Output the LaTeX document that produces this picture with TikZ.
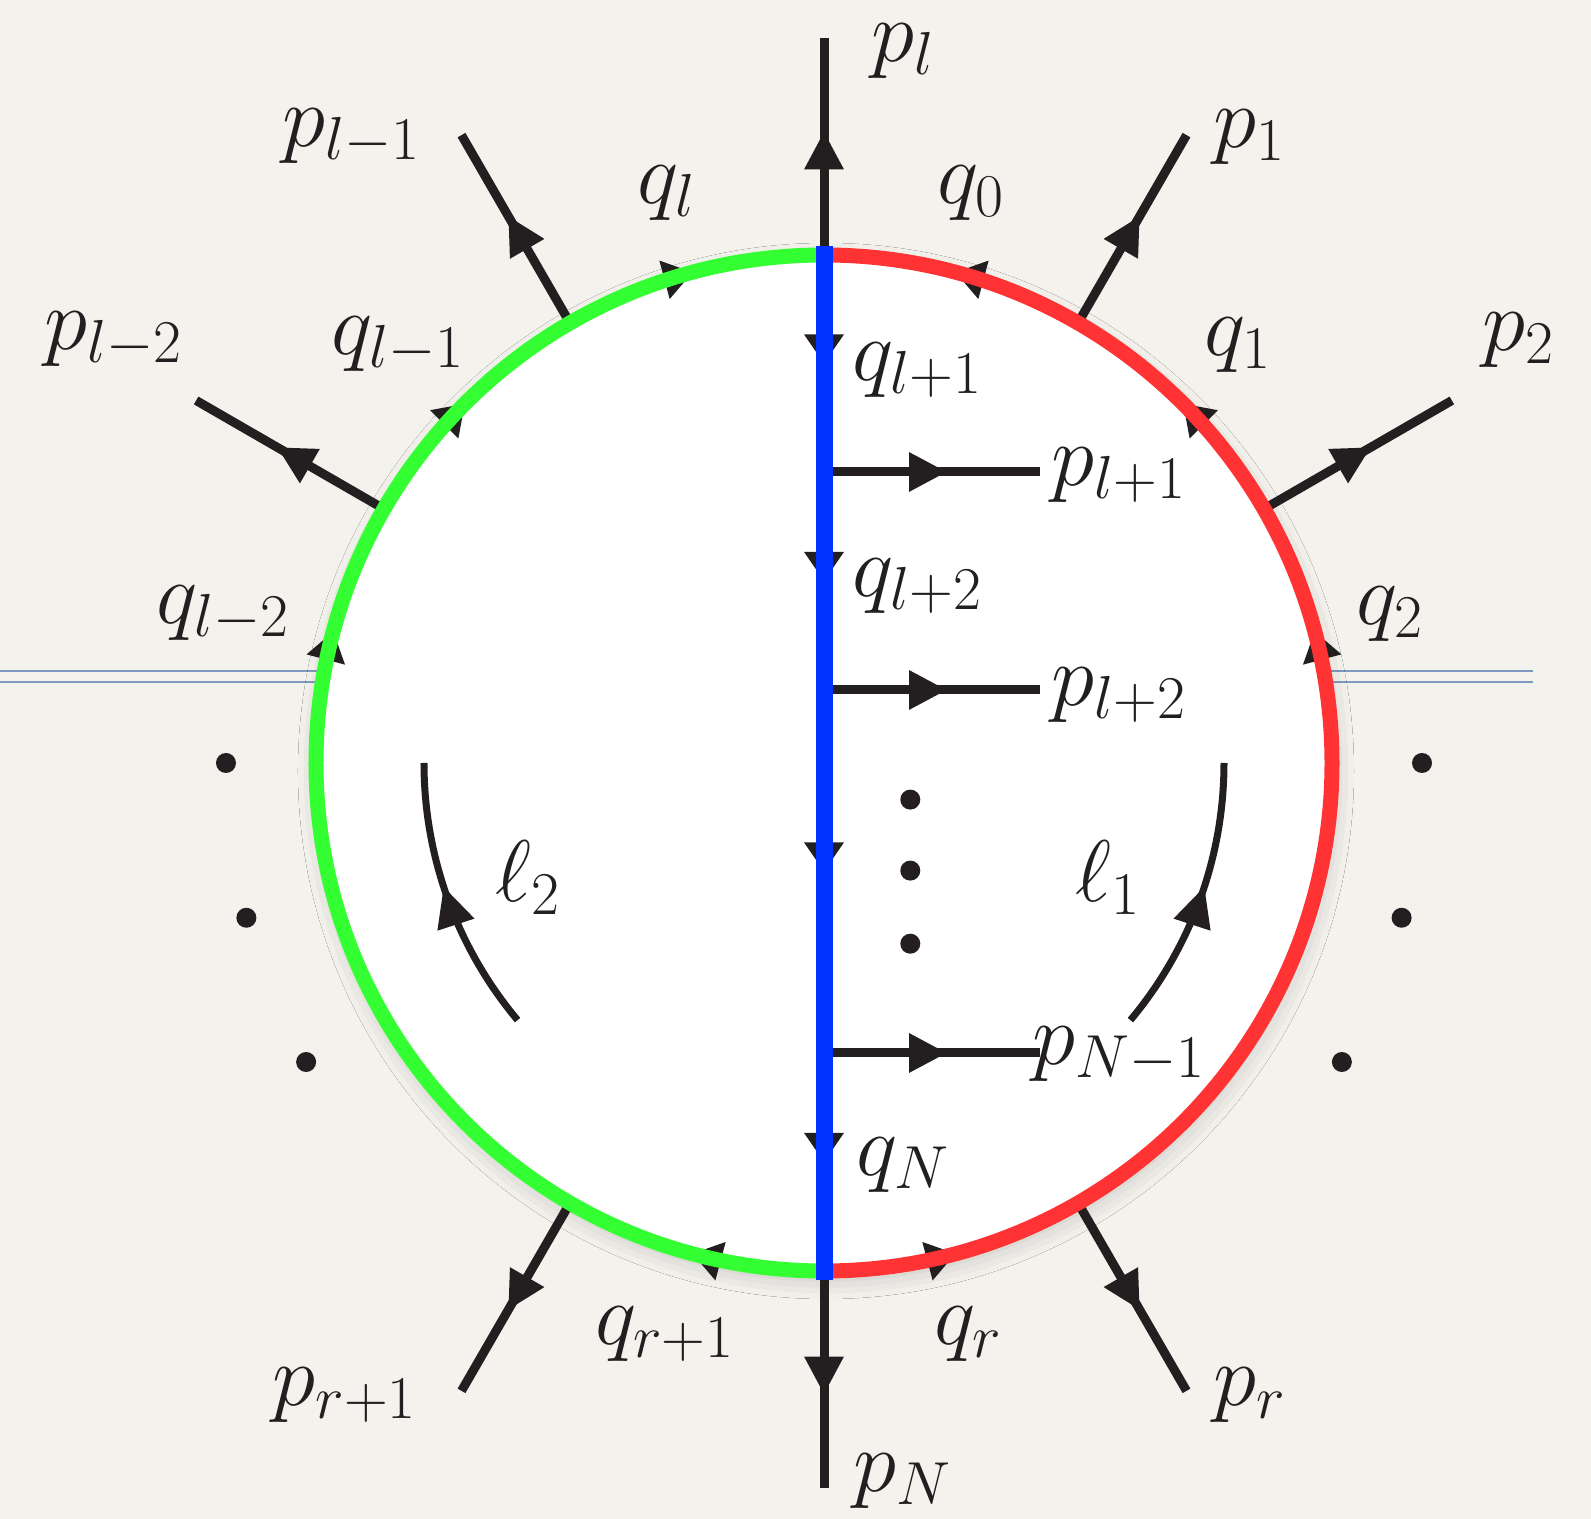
\documentclass[tikz,border=0pt]{standalone}
\usetikzlibrary{arrows.meta, decorations.markings, shadows.blur}
\definecolor{paper}{HTML}{F4F2ED}
\definecolor{ink}{HTML}{231F20}
\definecolor{ringleft}{HTML}{33FF33}
\definecolor{ringright}{HTML}{FF3333}
\definecolor{cutline}{HTML}{0033FF}
\definecolor{guide}{HTML}{7F99BF}
\tikzset{
    leg/.style={
        draw=ink, color=ink, line width=0.09cm,
        postaction={decorate},
        decoration={markings, mark=at position 0.57 with
            {\arrow{Triangle[length=0.38cm, width=0.37cm]}}},
    },
    prop/.style={
        draw=ink, color=ink, line width=1pt,
        postaction={decorate},
        decoration={markings, mark=at position 0.5 with
            {\arrow{Triangle[length=0.29cm, width=0.39cm]}}},
    },
    ring/.style={
        draw=#1, line width=0.15cm,
    },
    cut/.style={
        draw=cutline, line width=0.17cm, line cap=rect,
    },
    loopmom/.style={
        draw=ink, color=ink, line width=0.07cm,
        postaction={decorate},
        decoration={markings, mark=at position 0.55 with
            {\arrow{Triangle[length=0.4cm, width=0.37cm]}}},
    },
    dot/.style={
        circle, fill=ink, inner sep=0pt, minimum size=0.2cm,
    },
    lbl/.style={
        font=\fontsize{26.5}{30}\selectfont, text=ink, inner sep=0pt,
    },
}
\def\R{5.08}
\def\Rout{7.25}

\begin{document}
\begin{tikzpicture}

% =============================================
% Paper and guide lines
% =============================================
\fill[paper] (-8.24,-7.56) rectangle (7.67,7.63);
\useasboundingbox (-8.24,-7.56) rectangle (7.67,7.63);

\draw[guide, line width=0.6pt] (-8.24,0.92) -- (0,0.92);
\draw[guide, line width=0.6pt] (-8.24,0.813) -- (0,0.813);
\draw[guide, line width=0.6pt] (0,0.92) -- (7.09,0.92);
\draw[guide, line width=0.6pt] (0,0.813) -- (7.09,0.813);

\fill[white, blur shadow={shadow xshift=0.02cm, shadow yshift=-0.08cm,
      shadow blur radius=0.2cm, shadow opacity=20}] (0,0) circle (\R);

% =============================================
% Vertices on the ring and on the cut
% =============================================
\coordinate (vl)   at (90:\R);
\coordinate (v1)   at (60:\R);
\coordinate (v2)   at (30:\R);
\coordinate (c0)   at (0:\R);
\coordinate (vlm1) at (120:\R);
\coordinate (vlm2) at (150:\R);
\coordinate (c180) at (180:\R);
\coordinate (vr)   at (-60:\R);
\coordinate (vrp1) at (-120:\R);
\coordinate (vN)   at (-90:\R);

\coordinate (u1) at (0,2.91);
\coordinate (u2) at (0,0.73);
\coordinate (u3) at (0,-2.90);

% outer ends of the legs
\coordinate (ol)   at (90:\Rout);
\coordinate (o1)   at (60:\Rout);
\coordinate (o2)   at (30:\Rout);
\coordinate (olm1) at (120:\Rout);
\coordinate (olm2) at (150:\Rout);
\coordinate (or)   at (-60:\Rout);
\coordinate (orp1) at (-120:\Rout);
\coordinate (oN)   at (-90:\Rout);

% inner ends of the rungs
\coordinate (e1) at (2.16,2.91);
\coordinate (e2) at (2.16,0.73);
\coordinate (e3) at (2.16,-2.90);

% =============================================
% External legs
% =============================================
\draw[leg] (vl) -- (ol);
\draw[leg] (v1) -- (o1);
\draw[leg] (v2) -- (o2);
\draw[leg] (vlm1) -- (olm1);
\draw[leg] (vlm2) -- (olm2);
\draw[leg] (vr) -- (or);
\draw[leg] (vrp1) -- (orp1);
\draw[leg] (vN) -- (oN);

% =============================================
% Ring propagators (arrows under the ring)
% =============================================
\draw[prop] (vN) arc[start angle=-90, end angle=-60, radius=\R];
\draw[prop] (c0) arc[start angle=0, end angle=30, radius=\R];
\draw[prop] (v2) arc[start angle=30, end angle=60, radius=\R];
\draw[prop] (v1) arc[start angle=60, end angle=90, radius=\R];

\draw[prop] (vN) arc[start angle=-90, end angle=-120, radius=\R];
\draw[prop] (c180) arc[start angle=180, end angle=150, radius=\R];
\draw[prop] (vlm2) arc[start angle=150, end angle=120, radius=\R];
\draw[prop] (vlm1) arc[start angle=120, end angle=90, radius=\R];

\draw[ring=ringright] (vN) arc[start angle=-90, end angle=90, radius=\R];
\draw[ring=ringleft] (vl) arc[start angle=90, end angle=270, radius=\R];

% =============================================
% Rungs and the cut
% =============================================
\draw[leg] (u1) -- (e1);
\draw[leg] (u2) -- (e2);
\draw[leg] (u3) -- (e3);

\draw[prop] (vl) -- (u1);
\draw[prop] (u1) -- (u2);
\draw[prop] (u2) -- (u3);
\draw[prop] (u3) -- (vN);

\draw[cut] (vl) -- (vN);

% =============================================
% Loop momenta
% =============================================
\draw[loopmom] (220:4.0) arc[start angle=220, end angle=180, radius=4.0];
\draw[loopmom] (-40:4.0) arc[start angle=-40, end angle=0, radius=4.0];

% =============================================
% Dots
% =============================================
\node[dot] (d1) at (0.863,-0.366) {};
\node[dot] (d2) at (0.863,-1.076) {};
\node[dot] (d3) at (0.863,-1.807) {};
\node[dot] (dl1) at (180:5.98) {};
\node[dot] (dl2) at (195:5.98) {};
\node[dot] (dl3) at (210:5.98) {};
\node[dot] (dr1) at (0:5.98) {};
\node[dot] (dr2) at (-15:5.98) {};
\node[dot] (dr3) at (-30:5.98) {};

% =============================================
% Labels
% =============================================
\node[lbl] (Lpl)   at (0.79,7.12)   {$p_l$};
\node[lbl] (Lp1)   at (4.26,6.26)   {$p_1$};
\node[lbl] (Lp2)   at (6.95,4.23)   {$p_2$};
\node[lbl] (Lplm1) at (-4.72,6.26)  {$p_{l-1}$};
\node[lbl] (Lplm2) at (-7.10,4.23)  {$p_{l-2}$};
\node[lbl] (Lql)   at (-1.57,5.70)  {$q_l$};
\node[lbl] (Lq0)   at (1.47,5.70)   {$q_0$};
\node[lbl] (Lqlm1) at (-4.26,4.18)  {$q_{l-1}$};
\node[lbl] (Lq1)   at (4.14,4.18)   {$q_1$};
\node[lbl] (Lqlm2) at (-6.01,1.49)  {$q_{l-2}$};
\node[lbl] (Lq2)   at (5.66,1.49)   {$q_2$};
\node[lbl] (Lqlp1) at (0.94,3.93)   {$q_{l+1}$};
\node[lbl] (Lplp1) at (2.95,2.88)   {$p_{l+1}$};
\node[lbl] (Lqlp2) at (0.94,1.77)   {$q_{l+2}$};
\node[lbl] (Lplp2) at (2.95,0.68)   {$p_{l+2}$};
\node[lbl] (Lell2) at (-2.96,-1.15) {$\ell_2$};
\node[lbl] (Lell1) at (2.84,-1.15)  {$\ell_1$};
\node[lbl] (LpNm1) at (2.95,-2.92)  {$p_{N-1}$};
\node[lbl] (LqN)   at (0.79,-4.02)  {$q_N$};
\node[lbl] (Lqrp1) at (-1.59,-5.71) {$q_{r+1}$};
\node[lbl] (Lqr)   at (1.45,-5.71)  {$q_r$};
\node[lbl] (Lprp1) at (-4.79,-6.32) {$p_{r+1}$};
\node[lbl] (Lpr)   at (4.26,-6.32)  {$p_r$};
\node[lbl] (LpN)   at (0.79,-7.18)  {$p_N$};

\end{tikzpicture}
\end{document}
